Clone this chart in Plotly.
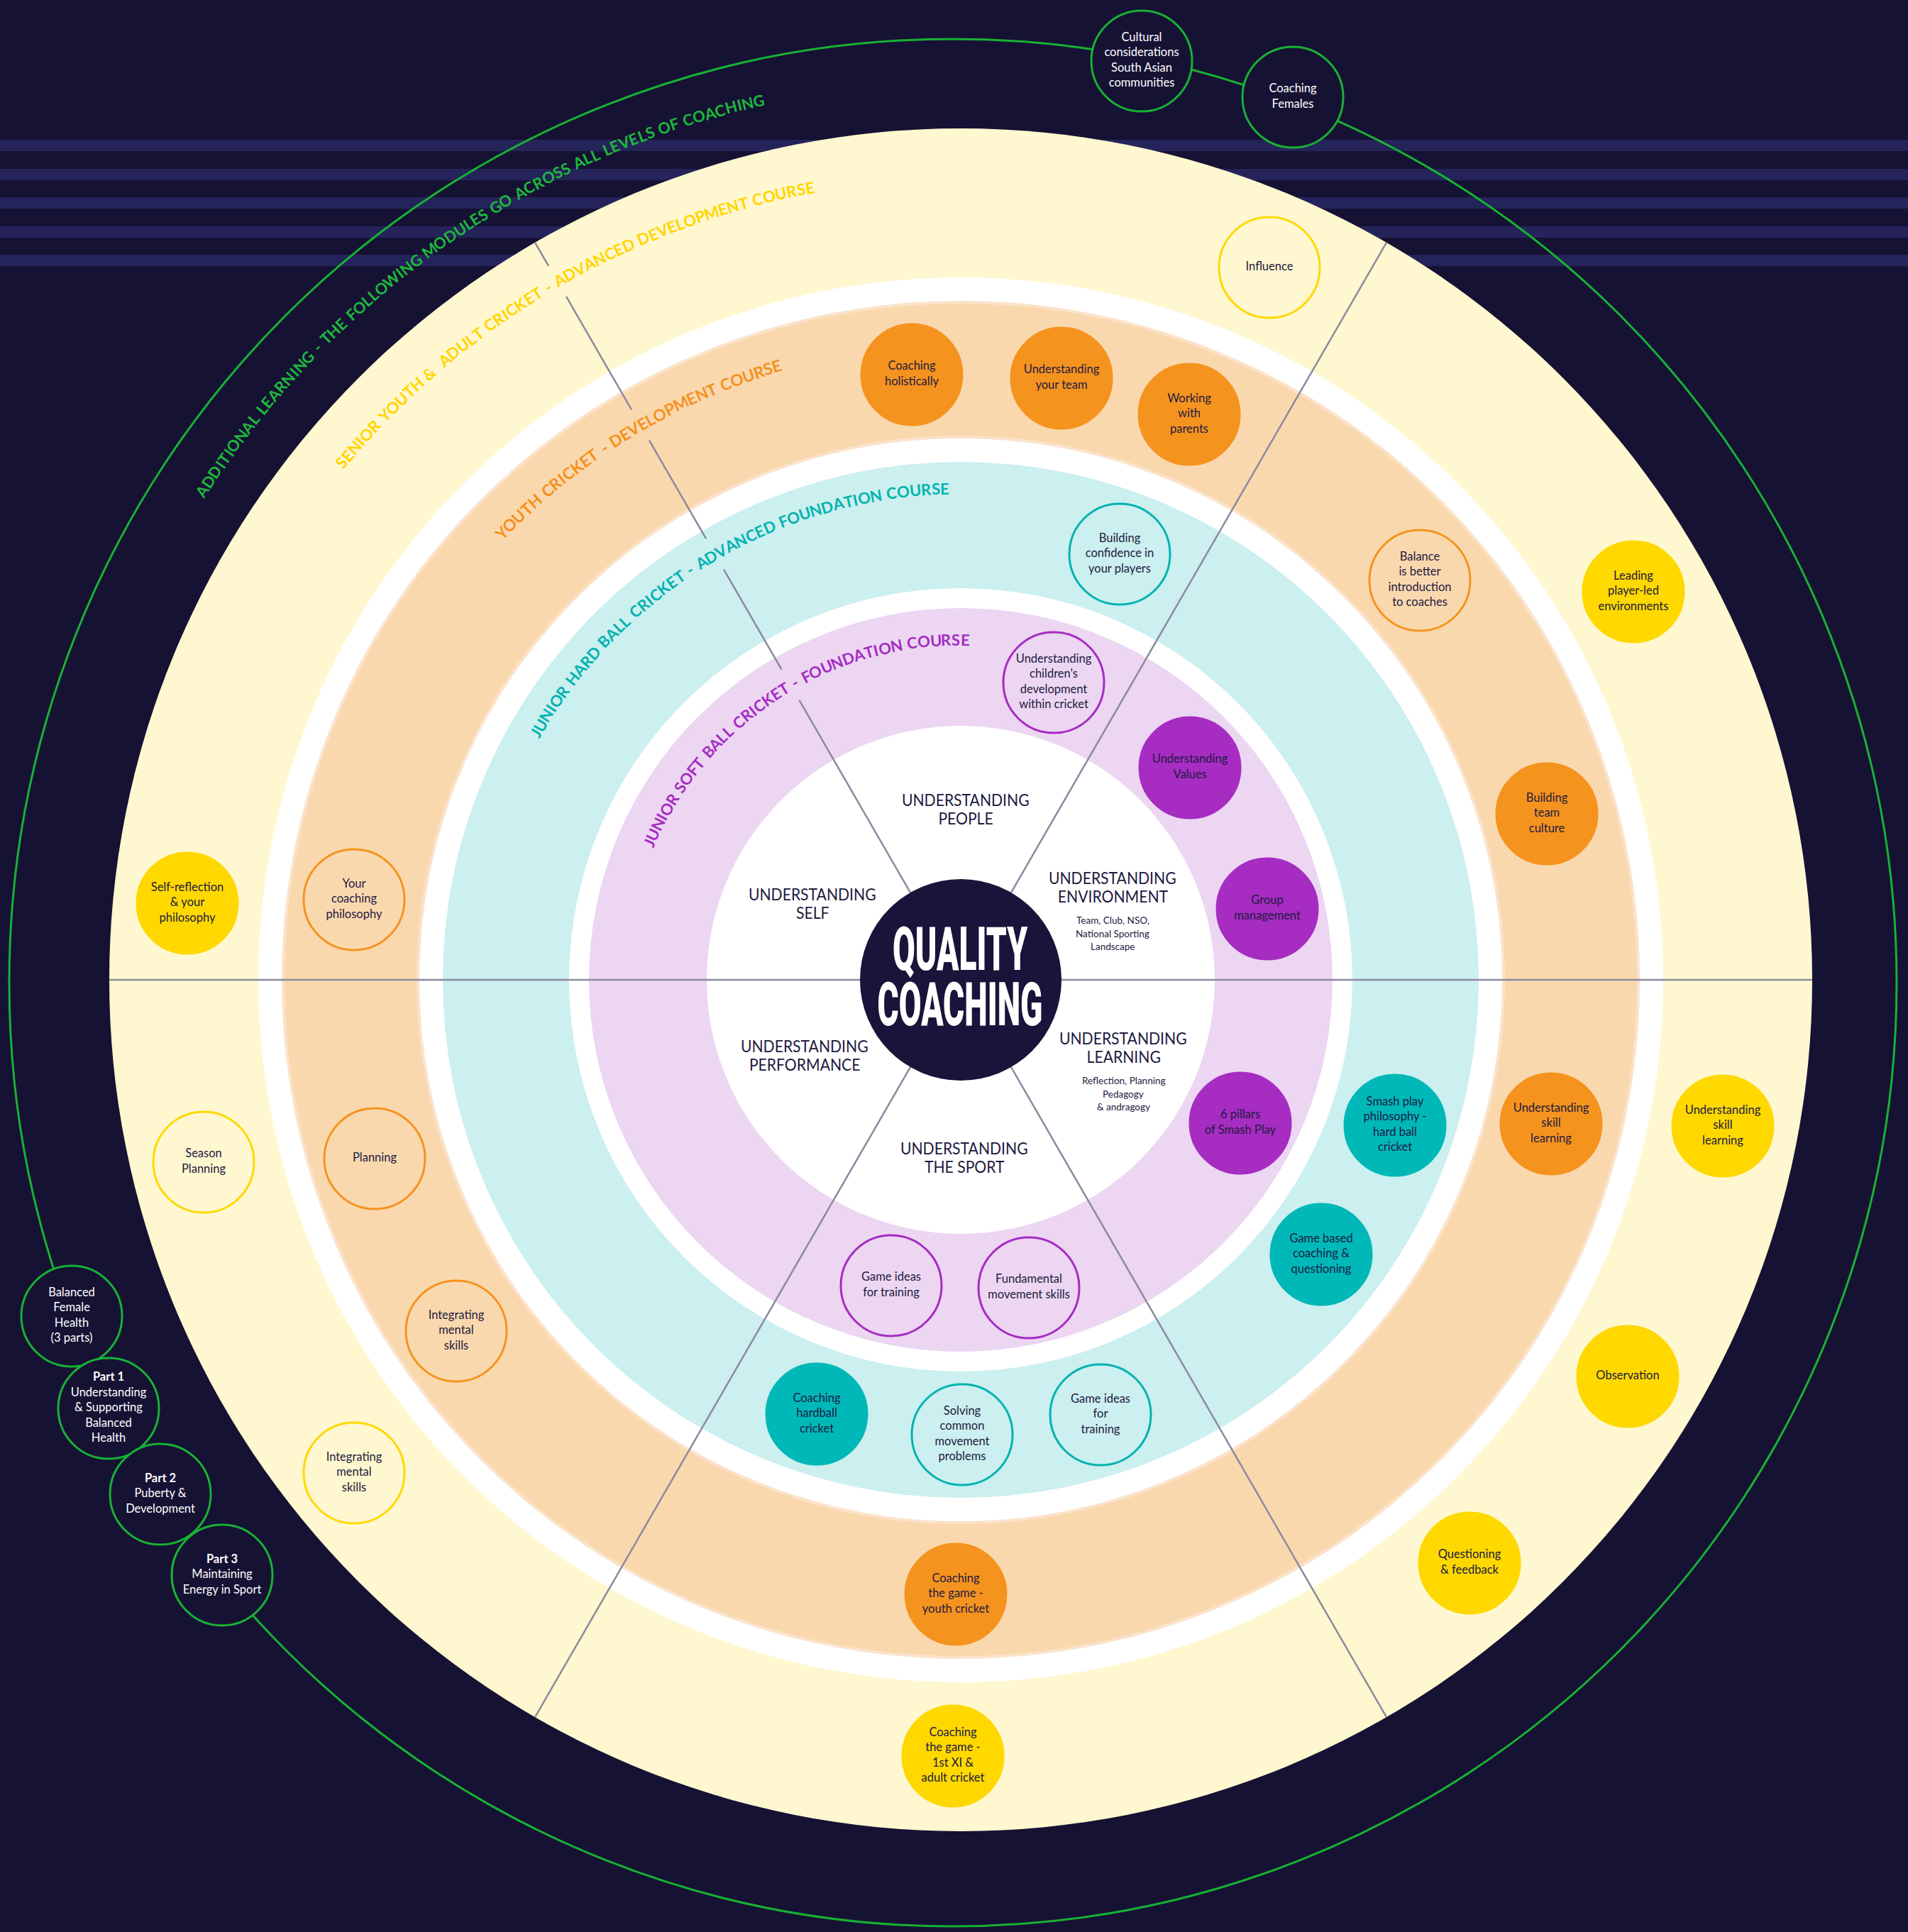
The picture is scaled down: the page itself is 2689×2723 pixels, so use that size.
import json
import math
import plotly.graph_objects as go

W, H = 2689, 2723
CX, CY = 1354, 1381

# ---------------- data ----------------
# concentric bands (outer radius -> fill), drawn from outside in
band_radii = [1200, 990, 955, 765, 730, 552, 524, 358]
band_fills = ["#fff7cf", "#ffffff", "#fad8ae", "#ffffff", "#ccefef", "#ffffff", "#ecd6f2", "#ffffff"]

# arc titles of the rings
arc_texts = [
    "ADDITIONAL LEARNING - THE FOLLOWING MODULES GO ACROSS ALL LEVELS OF COACHING",
    "SENIOR YOUTH &  ADULT CRICKET - ADVANCED DEVELOPMENT COURSE",
    "YOUTH CRICKET - DEVELOPMENT COURSE",
    "JUNIOR HARD BALL CRICKET - ADVANCED FOUNDATION COURSE",
    "JUNIOR SOFT BALL CRICKET - FOUNDATION COURSE",
]
arc_colors = ["#1db83c", "#ffd500", "#f4911e", "#00b3b0", "#a52cc2"]
arc_radius = [1272, 1137, 903, 693, 480]
arc_start_deg = [147.5, 140.4, 136.2, 150.2, 156.8]
arc_end_deg = [102.6, 100.5, 106.3, 91.4, 88.6]

# spokes (degrees)
spoke_angles = [0, 60, 120, 180, 240, 300]

# nodes
node_labels = [
    # yellow ring
    "Influence", "Leading<br>player-led<br>environments", "Understanding<br>skill<br>learning",
    "Observation", "Questioning<br>& feedback", "Coaching<br>the game -<br>1st XI &<br>adult cricket",
    "Integrating<br>mental<br>skills", "Season<br>Planning", "Self-reflection<br>& your<br>philosophy",
    # orange ring
    "Coaching<br>holistically", "Understanding<br>your team", "Working<br>with<br>parents",
    "Balance<br>is better<br>introduction<br>to coaches", "Building<br>team<br>culture",
    "Understanding<br>skill<br>learning", "Coaching<br>the game -<br>youth cricket",
    "Integrating<br>mental<br>skills", "Planning", "Your<br>coaching<br>philosophy",
    # cyan ring
    "Building<br>confidence in<br>your players", "Smash play<br>philosophy -<br>hard ball<br>cricket",
    "Game based<br>coaching &<br>questioning", "Game ideas<br>for<br>training",
    "Solving<br>common<br>movement<br>problems", "Coaching<br>hardball<br>cricket",
    # lavender ring
    "Understanding<br>children's<br>development<br>within cricket", "Understanding<br>Values",
    "Group<br>management", "6 pillars<br>of Smash Play", "Fundamental<br>movement skills",
    "Game ideas<br>for training",
    # additional learning
    "Cultural<br>considerations<br>South Asian<br>communities", "Coaching<br>Females",
    "Balanced<br>Female<br>Health<br>(3 parts)",
    "<b>Part 1</b><br>Understanding<br>& Supporting<br>Balanced<br>Health",
    "<b>Part 2</b><br>Puberty &<br>Development",
    "<b>Part 3</b><br>Maintaining<br>Energy in Sport",
]
node_x = [1789, 2302, 2428, 2294, 2071, 1343, 499, 287, 264,
          1285, 1496, 1676, 2001, 2180, 2186, 1347, 643, 528, 499,
          1578, 1966, 1862, 1551, 1356, 1151,
          1485, 1677, 1786, 1748, 1450, 1256,
          1609, 1822, 101, 153, 226, 313]
node_y = [377, 834, 1587, 1940, 2203, 2475, 2076, 1638, 1273,
          528, 533, 584, 818, 1147, 1584, 2247, 1876, 1633, 1268,
          781, 1586, 1768, 1994, 2022, 1993,
          962, 1082, 1281, 1583, 1815, 1812,
          86, 137, 1855, 1985, 2106, 2220]
node_style = ["yl", "yf", "yf", "yf", "yf", "yf", "yl", "yl", "yf",
              "of", "of", "of", "ol", "of", "of", "of", "ol", "ol", "ol",
              "tl", "tf", "tf", "tl", "tl", "tf",
              "pl", "pf", "pf", "pf", "pl", "pl",
              "g", "g", "g", "g", "g", "g"]

# centre labels
center_lines = [["UNDERSTANDING", "PEOPLE"], ["UNDERSTANDING", "SELF"],
                ["UNDERSTANDING", "ENVIRONMENT"], ["UNDERSTANDING", "PERFORMANCE"],
                ["UNDERSTANDING", "LEARNING"], ["UNDERSTANDING", "THE SPORT"]]
center_sub = [[], [], ["Team, Club, NSO,", "National Sporting", "Landscape"], [],
              ["Reflection, Planning", "Pedagogy", "& andragogy"], []]
center_x = [1361, 1145, 1568, 1134, 1583, 1359]
center_y = [1127, 1260, 1237, 1474, 1463, 1618]

title_words = ["QUALITY", "COACHING"]

BG = "#161234"
NAVY = "#1d1a40"
styles = {
    "yf": dict(fill="#ffd800", line="#ffd800", tc=NAVY),
    "yl": dict(fill="rgba(0,0,0,0)", line="#ffd800", tc=NAVY),
    "of": dict(fill="#f5931f", line="#f5931f", tc=NAVY),
    "ol": dict(fill="rgba(0,0,0,0)", line="#f5931f", tc=NAVY),
    "tf": dict(fill="#00b8b8", line="#00b8b8", tc=NAVY),
    "tl": dict(fill="rgba(0,0,0,0)", line="#00b3b0", tc=NAVY),
    "pf": dict(fill="#a62cc2", line="#a62cc2", tc=NAVY),
    "pl": dict(fill="rgba(0,0,0,0)", line="#a62cc2", tc=NAVY),
    "g": dict(fill=BG, line="#17b233", tc="#ffffff"),
}

EM = {'A': .70, 'B': .66, 'C': .67, 'D': .75, 'E': .57, 'F': .55, 'G': .73, 'H': .77, 'I': .30,
      'J': .40, 'K': .69, 'L': .52, 'M': .91, 'N': .77, 'O': .80, 'P': .62, 'Q': .80, 'R': .65,
      'S': .55, 'T': .60, 'U': .74, 'V': .69, 'W': 1.02, 'X': .68, 'Y': .64, 'Z': .62,
      ' ': .26, '&': .70, '-': .38}

# ---------------- figure ----------------
fig = go.Figure()
shapes = []
annotations = []
squeeze = {}


def pt(r, deg):
    a = math.radians(deg)
    return CX + r * math.cos(a), CY - r * math.sin(a)


# background stripes
for yc in [205, 246, 286, 327, 367]:
    shapes.append(dict(type="rect", xref="x", yref="y", x0=0, x1=W, y0=yc - 8, y1=yc + 8,
                       fillcolor="#25245a", line=dict(width=0), layer="below"))

# additional-learning ring (green)
GCX, GCY, GR = 1343, 1385, 1330
shapes.append(dict(type="circle", xref="x", yref="y", x0=GCX - GR, x1=GCX + GR, y0=GCY - GR, y1=GCY + GR,
                   line=dict(color="#17b233", width=3), fillcolor="rgba(0,0,0,0)", layer="below"))

# bands
for r, f in zip(band_radii, band_fills):
    lc = "#fbe3cb" if r in (955, 765) else f
    lw = 4 if r in (955, 765) else 0
    shapes.append(dict(type="circle", xref="x", yref="y", x0=CX - r, x1=CX + r, y0=CY - r, y1=CY + r,
                       fillcolor=f, line=dict(color=lc, width=lw), layer="below"))

# spokes, with gaps where the ring titles cross
GAP = 25
for ang in spoke_angles:
    cuts = []
    for i in range(1, len(arc_texts)):
        if arc_end_deg[i] < ang < arc_start_deg[i]:
            cuts.append(arc_radius[i])
    segs = []
    r0 = 0
    for c in sorted(cuts):
        segs.append((r0, c - GAP))
        r0 = c + GAP
    segs.append((r0, 1200))
    for a, b in segs:
        x0, y0 = pt(a, ang)
        x1, y1 = pt(b, ang)
        shapes.append(dict(type="line", xref="x", yref="y", x0=x0, y0=y0, x1=x1, y1=y1,
                           line=dict(color="#8c8a9e", width=2.5), layer="below"))

# centre disc
shapes.append(dict(type="circle", xref="x", yref="y", x0=CX - 142, x1=CX + 142, y0=CY - 142, y1=CY + 142,
                   fillcolor="#18143a", line=dict(width=0), layer="below"))

# nodes
for st, sp in styles.items():
    idx = [i for i, s in enumerate(node_style) if s == st]
    fig.add_trace(go.Scatter(
        x=[node_x[i] for i in idx], y=[node_y[i] for i in idx],
        text=[node_labels[i] for i in idx], mode="markers+text", textposition="middle center",
        marker=dict(size=142, color=sp["fill"], line=dict(color=sp["line"], width=3), opacity=1),
        textfont=dict(family="Lato, 'Noto Sans', sans-serif", size=16.5, color=sp["tc"]),
        hoverinfo="skip", showlegend=False, cliponaxis=False))

# ring titles along arcs
for text, col, r, a0, a1 in zip(arc_texts, arc_colors, arc_radius, arc_start_deg, arc_end_deg):
    sp = 1.5
    ems = [EM.get(c, .6) for c in text]
    L = r * math.radians(a0 - a1)
    F = (L - sp * (len(text) - 1)) / sum(ems)
    s = 0.0
    for c, e in zip(text, ems):
        w = e * F
        mid = s + w / 2
        th = a0 - math.degrees(mid / r)
        x, y = pt(r, th)
        if c != " ":
            annotations.append(dict(x=x, y=y, xref="x", yref="y", text=c, textangle=90 - th,
                                    showarrow=False, xanchor="center", yanchor="middle", borderpad=0,
                                    font=dict(family="Lato, 'Noto Sans', sans-serif", size=F * 1.1,
                                              color=col, weight="bold")))
        s += w + sp

# centre labels
for lines, sub, x, y in zip(center_lines, center_sub, center_x, center_y):
    for k, ln in enumerate(lines):
        annotations.append(dict(x=x, y=y + 26 * k, xref="x", yref="y", text=ln, showarrow=False,
                                xanchor="center", yanchor="middle", borderpad=0,
                                font=dict(family="Lato, sans-serif", size=23, color=NAVY)))
        squeeze[len(annotations) - 1] = {"f": 0.92}
    for k, ln in enumerate(sub):
        annotations.append(dict(x=x, y=y + 60 + 18.5 * k, xref="x", yref="y", text=ln, showarrow=False,
                                xanchor="center", yanchor="middle", borderpad=0,
                                font=dict(family="Lato, sans-serif", size=13.5, color=NAVY)))

# QUALITY COACHING: one two-line block of tall condensed lettering
TITLE_NOMINAL = 40
annotations.append(dict(x=1353, y=1376, xref="x", yref="y", text="<br>".join(title_words),
                        showarrow=False, xanchor="center", yanchor="middle", borderpad=0,
                        font=dict(family="Roboto, Lato, sans-serif", size=TITLE_NOMINAL,
                                  color="#ffffff", weight=900)))
squeeze[len(annotations) - 1] = {"w": 233, "sy": 86.0 / TITLE_NOMINAL, "gap": 78}

fig.update_layout(
    width=W, height=H, margin=dict(l=0, r=0, t=0, b=0),
    paper_bgcolor=BG, plot_bgcolor=BG,
    xaxis=dict(range=[0, W], visible=False, fixedrange=True),
    yaxis=dict(range=[H, 0], visible=False, fixedrange=True),
    shapes=shapes, annotations=annotations, showlegend=False,
)

post = """
document.body.style.margin='0';
document.body.style.overflow='hidden';
var gd = document.getElementById('{plot_id}');
var SQ = """ + json.dumps({str(k): v for k, v in squeeze.items()}) + """;
function sq(){
  var gs = gd.querySelectorAll('g.annotation');
  for (var n=0; n<gs.length; n++){
    var g = gs[n];
    var i = g.getAttribute('data-index');
    if (!(i in SQ)) continue;
    var t = g.querySelector('text.annotation-text');
    if (!t) continue;
    var spec = SQ[i];
    var sy = spec.sy ? spec.sy : 1;
    var b0 = t.getBBox();
    if (!(b0.width > 0)) continue;
    var cx0 = b0.x + b0.width / 2, cy0 = b0.y + b0.height / 2;
    if (spec.gap) {
      var tsp = t.querySelectorAll('tspan.line');
      for (var k = 1; k < tsp.length; k++) { tsp[k].setAttribute('dy', (spec.gap / sy)); }
    }
    var bb = t.getBBox();
    var target = spec.w ? spec.w : bb.width * spec.f;
    var sx = target / bb.width;
    var cx1 = bb.x + bb.width / 2, cy1 = bb.y + bb.height / 2;
    var old = t.getAttribute('transform') || '';
    t.setAttribute('transform', old + ' translate(' + cx0 + ',' + cy0 + ') scale(' + sx + ',' + sy +
                   ') translate(' + (-cx1) + ',' + (-cy1) + ')');
  }
}
sq();
"""

fig.write_html("out.html", config={"displayModeBar": False, "staticPlot": True}, post_script=post)
